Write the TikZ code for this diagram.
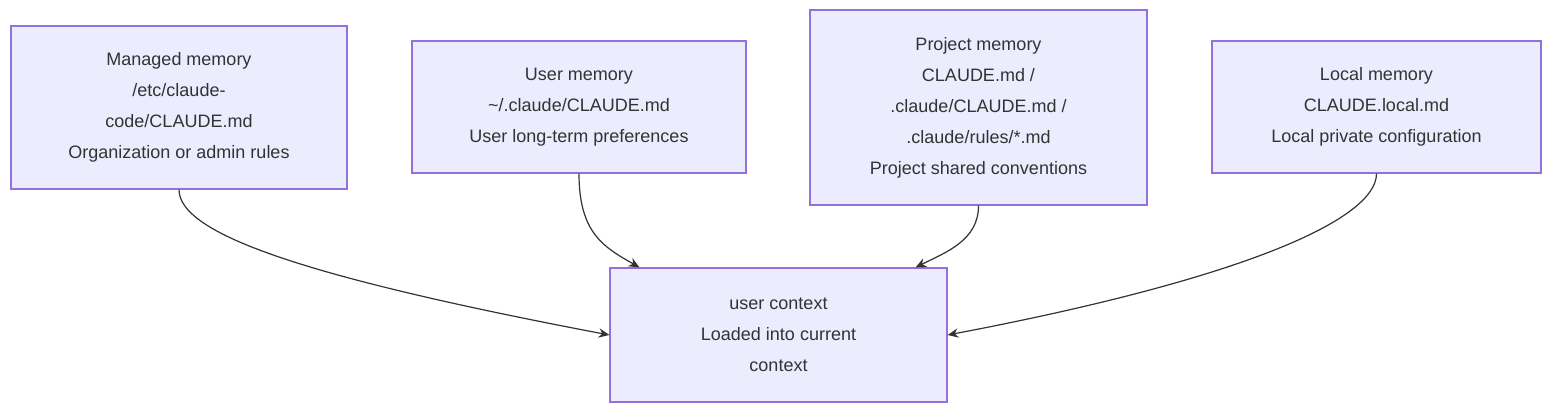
\documentclass[tikz,border=0pt]{standalone}
\usepackage{fontspec}
\setmainfont{Liberation Sans}
\usetikzlibrary{arrows.meta,calc}
\definecolor{boxfill}{HTML}{ECECFF}
\definecolor{boxline}{HTML}{9370DB}
\definecolor{edgeline}{HTML}{333333}
\begin{document}
\begin{tikzpicture}[x=0.75pt,y=-0.75pt,
  mem/.style={draw=boxline,fill=boxfill,line width=0.9pt,align=center,inner sep=0pt,
    font=\fontsize{13.5pt}{23.2pt}\selectfont,text=edgeline},
  link/.style={draw=edgeline,line width=0.9pt,-{Stealth[length=8pt,width=7pt]}}]
   \useasboundingbox (0,0) rectangle (1568,418);
   \node[mem,minimum width=336*0.75pt,minimum height=163*0.75pt] (a) at (179,107.5)
     {Managed memory\\/etc/claude-\\code/CLAUDE.md\\Organization or admin rules};
   \node[mem,minimum width=334*0.75pt,minimum height=132*0.75pt] (b) at (579,107)
     {User memory\\\textasciitilde/.claude/CLAUDE.md\\User long-term preferences};
   \node[mem,minimum width=337*0.75pt,minimum height=195*0.75pt] (c) at (978.5,107.5)
     {Project memory\\CLAUDE.md /\\.claude/CLAUDE.md /\\.claude/rules/*.md\\Project shared conventions};
   \node[mem,minimum width=329*0.75pt,minimum height=132*0.75pt] (d) at (1376.5,107)
     {Local memory\\CLAUDE.local.md\\Local private configuration};
   \node[mem,minimum width=337*0.75pt,minimum height=134*0.75pt] (e) at (778.5,335)
     {user context\\Loaded into current\\context};

   \coordinate (eb) at ($(e.north west)+(30,0)$);
   \coordinate (ec) at ($(e.north east)+(-32,0)$);

   \path[link] (a.south) .. controls ($(a.south)+(0,45)$) and ($(e.west)+(-300,-57)$) .. (e.west);
   \path[link] (b.south) .. controls ($(b.south)+(0,60)$) and ($(eb)+(-35,-20)$) .. (eb);
   \path[link] (c.south) .. controls ($(c.south)+(0,35)$) and ($(ec)+(30,-15)$) .. (ec);
   \path[link] (d.south) .. controls ($(d.south)+(0,45)$) and ($(e.east)+(300,-57)$) .. (e.east);
\end{tikzpicture}
\end{document}
